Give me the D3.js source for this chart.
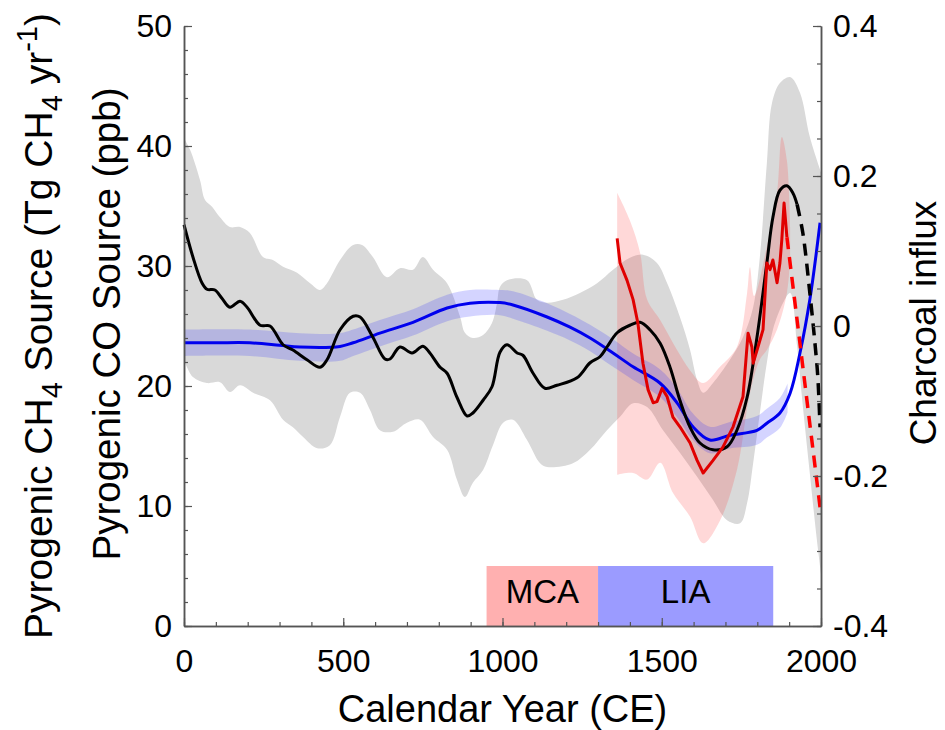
<!DOCTYPE html>
<html>
<head>
<meta charset="utf-8">
<script src="https://cdn.jsdelivr.net/npm/d3@7"></script>
<style>
  html, body { margin: 0; padding: 0; background: #fff; }
  svg text { font-family: "Liberation Sans", Arial, Helvetica, sans-serif; fill: #000; }
</style>
</head>
<body>
<svg id="chart" width="945" height="730"></svg>
<script>
// ---- Charcoal influx composite (right axis) ----
const charcoalLine = [[0,0.135],[28,0.092],[57,0.057],[72,0.049],[97,0.048],[119,0.037],[144,0.025],[176,0.033],[198,0.025],[239,0.001],[270,0.000],[311,-0.025],[342,-0.032],[386,-0.045],[427,-0.055],[449,-0.045],[490,-0.005],[531,0.013],[553,0.012],[593,-0.015],[631,-0.044],[647,-0.044],[678,-0.028],[716,-0.036],[750,-0.027],[772,-0.036],[804,-0.055],[826,-0.063],[857,-0.095],[889,-0.120],[907,-0.116],[939,-0.099],[967,-0.081],[992,-0.035],[1014,-0.025],[1046,-0.036],[1064,-0.039],[1096,-0.063],[1133,-0.083],[1171,-0.079],[1234,-0.069],[1275,-0.049],[1306,-0.041],[1328,-0.028],[1360,-0.009],[1400,0.001],[1432,0.005],[1463,-0.005],[1495,-0.023],[1526,-0.055],[1557,-0.099],[1589,-0.135],[1620,-0.156],[1661,-0.165],[1705,-0.161],[1736,-0.139],[1768,-0.095],[1799,-0.015],[1830,0.084],[1849,0.145],[1871,0.181],[1893,0.187],[1912,0.177],[1925,0.162]];
const charcoalRecent = [[1925,0.162],[1943,0.124],[1965,0.044],[1981,-0.023],[1990,-0.068],[1997,-0.135]];
const charcoalUpper = [[0,0.25],[19,0.235],[50,0.195],[66,0.168],[88,0.159],[113,0.145],[144,0.132],[176,0.132],[207,0.124],[248,0.092],[279,0.088],[311,0.079],[355,0.071],[396,0.057],[427,0.048],[449,0.057],[490,0.088],[531,0.108],[559,0.108],[593,0.092],[637,0.065],[678,0.077],[719,0.075],[750,0.092],[782,0.075],[826,0.057],[867,0.012],[882,-0.009],[907,-0.016],[939,-0.012],[967,0.004],[983,0.031],[992,0.052],[1014,0.061],[1077,0.061],[1108,0.035],[1140,0.031],[1190,0.035],[1243,0.044],[1297,0.057],[1347,0.075],[1400,0.091],[1441,0.095],[1485,0.084],[1517,0.057],[1557,0.012],[1589,-0.032],[1611,-0.072],[1630,-0.089],[1661,-0.076],[1714,-0.045],[1755,-0.015],[1787,0.025],[1808,0.092],[1830,0.217],[1846,0.297],[1871,0.324],[1903,0.332],[1934,0.311],[1965,0.252],[2000,0.205]];
const charcoalLower = [[0,-0.045],[28,-0.068],[72,-0.076],[113,-0.075],[144,-0.088],[176,-0.079],[217,-0.089],[270,-0.099],[311,-0.125],[342,-0.135],[374,-0.148],[418,-0.163],[458,-0.159],[490,-0.121],[521,-0.089],[553,-0.089],[584,-0.112],[615,-0.139],[656,-0.141],[700,-0.129],[741,-0.125],[782,-0.148],[826,-0.165],[857,-0.205],[882,-0.228],[907,-0.209],[939,-0.192],[970,-0.159],[1002,-0.129],[1033,-0.125],[1077,-0.152],[1118,-0.183],[1140,-0.188],[1221,-0.183],[1275,-0.165],[1328,-0.139],[1369,-0.121],[1410,-0.103],[1454,-0.108],[1504,-0.139],[1557,-0.169],[1611,-0.201],[1661,-0.232],[1705,-0.259],[1746,-0.263],[1768,-0.236],[1787,-0.183],[1808,-0.116],[1830,-0.049],[1849,-0.005],[1881,0.031],[1903,0.044],[1925,-0.027],[1943,-0.107],[1965,-0.197],[1987,-0.285],[2000,-0.330]];

// ---- Pyrogenic CH4 source (left axis, Tg CH4 / yr) ----
const ch4Line = [[0,23.6],[100,23.6],[207,23.6],[300,23.4],[364,23.25],[490,23.3],[531,23.6],[615,24.4],[719,25.3],[826,26.5],[898,26.9],[992,26.95],[1033,26.75],[1140,25.75],[1212,24.9],[1275,24.0],[1347,22.75],[1410,21.6],[1494,20.25],[1548,18.6],[1598,16.6],[1651,15.5],[1714,15.9],[1799,16.3],[1830,16.9],[1871,17.75],[1903,19.4],[1934,22.75],[1965,27.2],[1997,33.6]];
const ch4Upper = [[0,24.7],[207,24.7],[364,24.4],[490,24.4],[531,24.7],[615,25.5],[719,26.4],[826,27.6],[898,28.0],[992,28.0],[1033,27.9],[1140,26.9],[1212,26.0],[1275,25.1],[1347,23.9],[1410,22.7],[1494,21.4],[1548,19.8],[1598,17.7],[1651,16.6],[1714,17.0],[1799,17.5],[1830,18.1],[1871,19.0],[1895,20.2]];
const ch4Lower = [[0,22.5],[207,22.5],[364,22.1],[490,22.1],[531,22.5],[615,23.3],[719,24.2],[826,25.4],[898,25.8],[992,25.9],[1033,25.6],[1140,24.6],[1212,23.8],[1275,22.9],[1347,21.6],[1410,20.5],[1494,19.1],[1548,17.4],[1598,15.5],[1651,14.4],[1714,14.8],[1799,15.1],[1830,15.7],[1871,16.5],[1895,17.8]];

// ---- Pyrogenic CO source (left axis, ppb) ----
const coLine = [[1360,32.3],[1369,30.25],[1391,28.8],[1410,27.2],[1425,25.25],[1441,21.9],[1457,19.7],[1473,18.6],[1485,18.7],[1501,19.8],[1517,19.1],[1535,17.4],[1557,16.6],[1589,15.25],[1611,13.8],[1630,12.75],[1661,13.8],[1692,14.9],[1724,16.6],[1755,19.1],[1771,24.4],[1783,23.25],[1787,21.9],[1802,23.25],[1818,24.7],[1830,30.25],[1840,29.7],[1849,30.5],[1862,28.6],[1871,30.25],[1877,32.2],[1884,35.25],[1893,32.4]];
const coRecent = [[1893,32.4],[1997,9.9]];
const coUpper = [[1360,36.1],[1400,33.8],[1432,31.1],[1454,27.2],[1495,25.5],[1548,23.0],[1589,21.3],[1630,20.25],[1683,21.6],[1736,23.25],[1768,27.75],[1777,29.9],[1790,27.5],[1830,31.6],[1862,36.1],[1877,40.75],[1893,38.8],[1903,33.25]];
const coLower = [[1360,12.6],[1410,12.75],[1454,12.2],[1495,13.6],[1535,11.1],[1589,9.1],[1630,6.9],[1683,8.8],[1736,13.0],[1777,19.4],[1808,22.2],[1830,23.0],[1862,24.7],[1893,27.75],[1903,30.5]];

// ---- Climate periods ----
const periodNames = ["MCA", "LIA"];
const periodStart = [950, 1300];
const periodEnd = [1300, 1850];
const periodHeight = [5, 5];

// ---- Ticks ----
const xTicks = [0, 500, 1000, 1500, 2000];
const leftTicks = [0, 10, 20, 30, 40, 50];
const rightTicks = [-0.4, -0.2, 0, 0.2, 0.4];

(function draw() {
  const svg = d3.select("#chart");
  const plotLeft = 184, plotRight = 821, plotTop = 26, plotBottom = 626;

  const x = d3.scaleLinear().domain([0, 2000]).range([plotLeft, plotRight]);
  const yL = d3.scaleLinear().domain([0, 50]).range([plotBottom, plotTop]);
  const yR = d3.scaleLinear().domain([-0.4, 0.4]).range([plotBottom, plotTop]);

  function bandPath(upper, lower, y) {
    const ln = d3.line().x(d => x(d[0])).y(d => y(d[1])).curve(d3.curveCatmullRom.alpha(0.5));
    const up = ln(upper);
    const lo = ln(lower.slice().reverse());
    return up + "L" + lo.slice(1) + "Z";
  }

  // uncertainty envelopes
  svg.append("path").attr("d", bandPath(charcoalUpper, charcoalLower, yR))
    .attr("fill", "#d9d9d9");
  svg.append("path").attr("d", bandPath(coUpper, coLower, yL))
    .attr("fill", "rgba(255,60,60,0.2)");
  svg.append("path").attr("d", bandPath(ch4Upper, ch4Lower, yL))
    .attr("fill", "rgba(40,40,255,0.2)");

  // climate period boxes
  const periods = periodNames.map((n, i) => ({name: n, s: periodStart[i], e: periodEnd[i], h: periodHeight[i]}));
  const periodFill = {MCA: "#ffb0b0", LIA: "#9b9bff"};
  svg.selectAll("rect.period").data(periods).join("rect")
    .attr("class", "period")
    .attr("x", d => x(d.s)).attr("width", d => x(d.e) - x(d.s))
    .attr("y", d => yL(d.h)).attr("height", d => yL(0) - yL(d.h))
    .attr("fill", d => periodFill[d.name]);
  svg.selectAll("text.period").data(periods).join("text")
    .attr("class", "period")
    .attr("x", d => (x(d.s) + x(d.e)) / 2)
    .attr("y", yL(1.9))
    .attr("text-anchor", "middle")
    .style("font-size", "33px")
    .text(d => d.name);

  // series lines
  const lineL = d3.line().x(d => x(d[0])).y(d => yL(d[1])).curve(d3.curveCatmullRom.alpha(0.5));
  const lineR = d3.line().x(d => x(d[0])).y(d => yR(d[1])).curve(d3.curveCatmullRom.alpha(0.5));
  const lineLin = d3.line().x(d => x(d[0])).y(d => yL(d[1]));

  svg.append("path").attr("d", lineL(ch4Line))
    .attr("fill", "none").attr("stroke", "#0000ee").attr("stroke-width", 3);
  svg.append("path").attr("d", lineR(charcoalLine))
    .attr("fill", "none").attr("stroke", "#000").attr("stroke-width", 3);
  svg.append("path").attr("d", lineR(charcoalRecent))
    .attr("fill", "none").attr("stroke", "#000").attr("stroke-width", 3.5)
    .attr("stroke-dasharray", "12,8");
  svg.append("path").attr("d", lineLin(coLine))
    .attr("fill", "none").attr("stroke", "#e00000").attr("stroke-width", 3)
    .attr("stroke-linejoin", "round");
  svg.append("path").attr("d", lineLin(coRecent))
    .attr("fill", "none").attr("stroke", "#ff0000").attr("stroke-width", 3.5)
    .attr("stroke-dasharray", "12,8");

  // axes
  const axisColor = "#555";
  function styleAxis(g) {
    g.selectAll(".domain").attr("stroke", axisColor).attr("stroke-width", 1.5);
    g.selectAll(".tick line").attr("stroke", axisColor).attr("stroke-width", 1.2);
    g.selectAll(".tick text").style("font-size", "32px").attr("fill", "#000")
      .style("font-family", "'Liberation Sans', Arial, sans-serif");
  }

  // minor ticks
  svg.append("g").attr("transform", `translate(0,${plotBottom})`)
    .call(d3.axisBottom(x).tickValues(d3.range(0, 2001, 100)).tickSize(-4).tickSizeOuter(0).tickFormat(""))
    .call(styleAxis);
  svg.append("g").attr("transform", `translate(${plotLeft},0)`)
    .call(d3.axisLeft(yL).tickValues(d3.range(0, 51, 2)).tickSize(-4).tickSizeOuter(0).tickFormat(""))
    .call(styleAxis);
  svg.append("g").attr("transform", `translate(${plotRight},0)`)
    .call(d3.axisRight(yR).tickValues(d3.range(-8, 9).map(k => k * 0.05)).tickSize(-4).tickSizeOuter(0).tickFormat(""))
    .call(styleAxis);

  // major ticks with labels
  const gx = svg.append("g").attr("transform", `translate(0,${plotBottom})`)
    .call(d3.axisBottom(x).tickValues(xTicks).tickSize(-8).tickSizeOuter(0).tickFormat(d3.format("d")))
    .call(styleAxis);
  gx.selectAll(".tick text").attr("y", 46).attr("dy", 0);

  svg.append("g").attr("transform", `translate(${plotLeft},0)`)
    .call(d3.axisLeft(yL).tickValues(leftTicks).tickSize(-8).tickSizeOuter(0).tickPadding(12).tickFormat(d3.format("d")))
    .call(styleAxis);

  svg.append("g").attr("transform", `translate(${plotRight},0)`)
    .call(d3.axisRight(yR).tickValues(rightTicks).tickSize(-8).tickSizeOuter(0).tickPadding(12)
      .tickFormat(d => d === 0 ? "0" : d.toFixed(1)))
    .call(styleAxis);

  // axis titles
  svg.append("text")
    .attr("x", (plotLeft + plotRight) / 2).attr("y", 722)
    .attr("text-anchor", "middle").style("font-size", "38px")
    .text("Calendar Year (CE)");

  const t1 = svg.append("text")
    .attr("transform", "translate(52,326) rotate(-90)")
    .attr("text-anchor", "middle").style("font-size", "39px");
  t1.append("tspan").text("Pyrogenic CH");
  t1.append("tspan").attr("dy", 10).style("font-size", "29px").text("4");
  t1.append("tspan").attr("dy", -10).text(" Source (Tg CH");
  t1.append("tspan").attr("dy", 10).style("font-size", "29px").text("4");
  t1.append("tspan").attr("dy", -10).text(" yr");
  t1.append("tspan").attr("dy", -15).style("font-size", "29px").text("-1");
  t1.append("tspan").attr("dy", 15).text(")");

  svg.append("text")
    .attr("transform", "translate(120,324) rotate(-90)")
    .attr("text-anchor", "middle").style("font-size", "38.5px")
    .text("Pyrogenic CO Source (ppb)");

  svg.append("text")
    .attr("transform", "translate(936,323) rotate(-90)")
    .attr("text-anchor", "middle").style("font-size", "37px")
    .text("Charcoal influx");
})();
</script>
</body>
</html>
